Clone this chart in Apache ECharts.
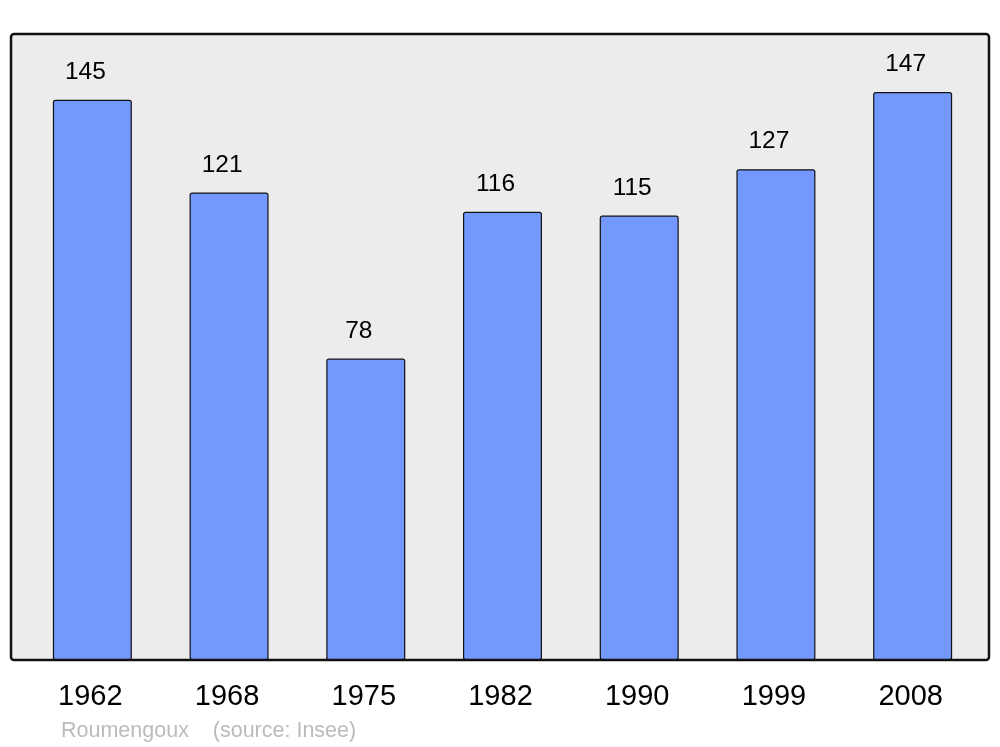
<!DOCTYPE html>
<html>
<head>
<meta charset="utf-8">
<script src="https://cdn.jsdelivr.net/npm/echarts@6/dist/echarts.min.js"></script>
<style>html,body{margin:0;padding:0;background:#fff}#c{width:1000px;height:747px}</style>
</head>
<body>
<div id="c"></div>
<script>
const years = ['1962','1968','1975','1982','1990','1999','2008'];
const population = [145,121,78,116,115,127,147];
const footerText = 'Roumengoux    (source: Insee)';

const chart = echarts.init(document.getElementById('c'), null, {renderer:'canvas'});
chart.setOption({
  animation:false,
  backgroundColor:'#ffffff',
  graphic:[
    {type:'rect', z:-10, shape:{x:11,y:34,width:978,height:626,r:3},
     style:{fill:'#ececec',stroke:'#111',lineWidth:2.5}},
    {type:'text', left:61, top:720, style:{text:footerText, fill:'#bbbbbb', font:'21.5px "Liberation Sans", Arial, sans-serif'}}
  ],
  grid:{left:24,right:19,top:34,bottom:87},
  xAxis:{type:'category',data:years,
    axisLine:{show:false},axisTick:{show:false},
    axisLabel:{margin:22,fontSize:29,color:'#000',padding:[0,4,0,0],fontFamily:'"Liberation Sans", Arial, sans-serif'}},
  yAxis:{type:'value',min:0,max:162,show:false,splitLine:{show:false}},
  series:[{type:'bar',data:population,barWidth:79,z:2,
    itemStyle:{color:'#7399ff',borderColor:'#111',borderWidth:1.2,borderRadius:2},
    label:{show:true,position:'top',distance:15,offset:[-7,0],fontSize:24.5,color:'#000',
      fontFamily:'"Liberation Sans", Arial, sans-serif'}
  }]
});
</script>
</body>
</html>
